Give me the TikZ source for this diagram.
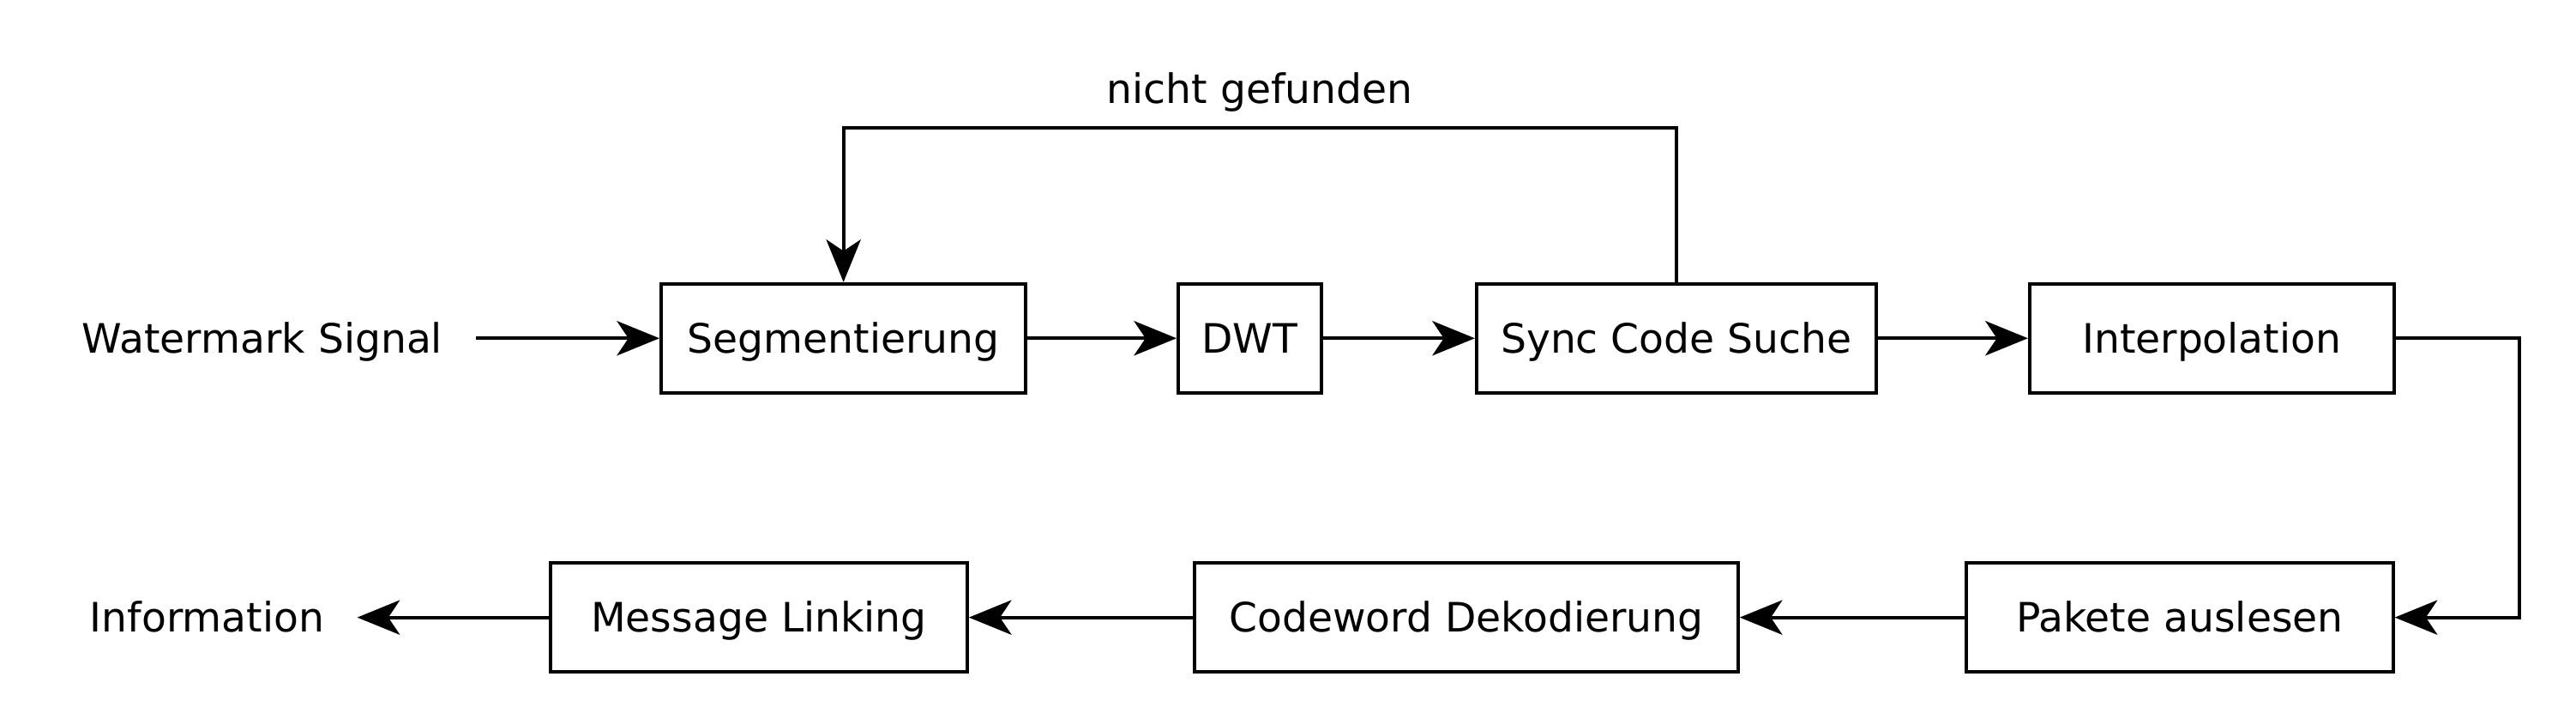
\documentclass[tikz,border=0pt]{standalone}
\usepackage{fontspec}
\setmainfont{DejaVu Sans}
\usepackage{tikz}
\usetikzlibrary{arrows.meta,positioning}

\begin{document}
\begin{tikzpicture}[
        every node/.style={text height=0.73em, text depth=0pt},
        block/.style={draw, line width=0.8pt, minimum height=0.946cm, inner sep=0pt},
        flow/.style={-{Stealth[length=0.37cm,width=0.30cm,inset=0.1cm]}, line width=0.8pt},
        endtext/.style={inner xsep=0.28cm, inner ysep=0pt}
    ]
            \useasboundingbox (0,0) rectangle (22.37,6.29);

            % obere Reihe
            \node[endtext] (signal) at (2.278,3.354) {Watermark Signal};
            \node[block, minimum width=3.168cm] (segment) at (7.325,3.354) {Segmentierung};
            \node[block, minimum width=1.243cm] (dwt) at (10.853,3.354) {DWT};
            \node[block, minimum width=3.470cm] (sync) at (14.557,3.354) {Sync Code Suche};
            \node[block, minimum width=3.165cm] (interp) at (19.207,3.354) {Interpolation};

            % untere Reihe
            \node[block, minimum width=3.708cm] (pakete) at (18.928,0.931) {Pakete auslesen};
            \node[block, minimum width=4.721cm] (codeword) at (12.733,0.931) {Codeword Dekodierung};
            \node[block, minimum width=3.619cm] (message) at (6.590,0.931) {Message Linking};
            \node[endtext] (info) at (1.798,0.931) {Information};

            \coordinate (looptop) at (0,5.182);
            \coordinate (rightside) at (21.88,0);

            \draw[flow] (signal) -- (segment);
            \draw[flow] (segment) -- (dwt);
            \draw[flow] (dwt) -- (sync);
            \draw[flow] (sync) -- (interp);
            \draw[flow] (sync.north) -- (sync.north |- looptop) -- node[above=0.08cm]{nicht gefunden} (segment.north |- looptop) -- (segment.north);

            \draw[flow] (interp.east) -| (rightside |- pakete.east) -- (pakete.east);
            \draw[flow] (pakete) -- (codeword);
            \draw[flow] (codeword) -- (message);
            \draw[flow] (message) -- (info);
        \end{tikzpicture}
\end{document}
